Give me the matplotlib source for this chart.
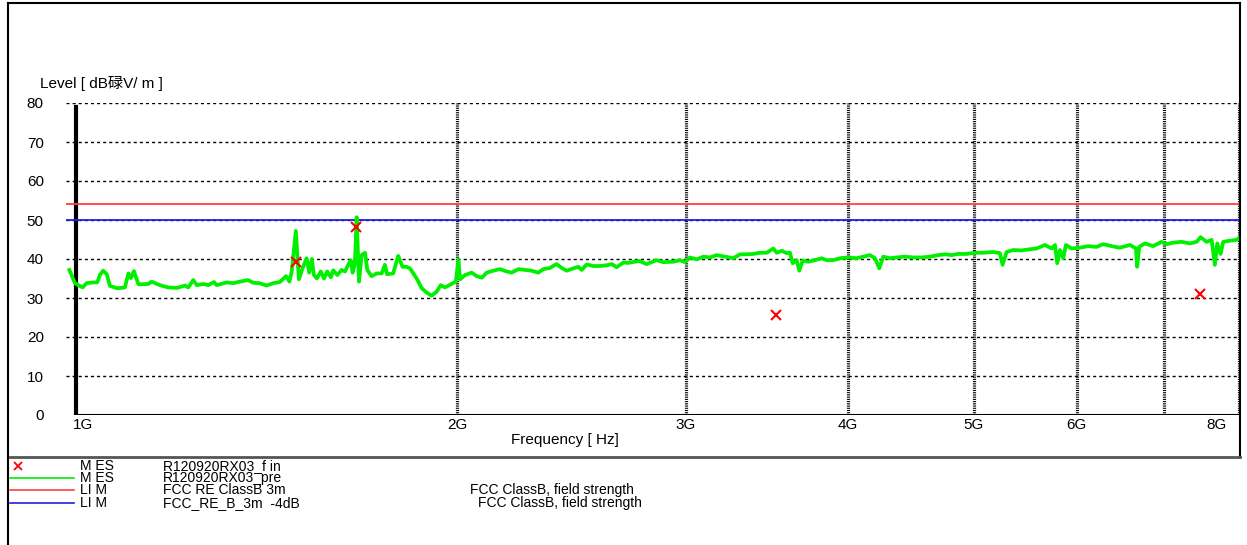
import matplotlib
matplotlib.use('Agg')
import matplotlib.pyplot as plt
import matplotlib.transforms as mtransforms

plt.rcParams['font.family'] = ['Liberation Sans', 'Noto Sans CJK SC', 'DejaVu Sans']
plt.rcParams['lines.scale_dashes'] = False

# pre-scan (green trace), frequency in GHz, level in dBuV/m
pre_freq = [
    1.006, 1.016, 1.022, 1.030, 1.037, 1.050, 1.057, 1.062, 1.068, 1.075,
    1.081, 1.095, 1.110, 1.117, 1.122, 1.128, 1.137, 1.157, 1.164, 1.181,
    1.199, 1.218, 1.235, 1.242, 1.253, 1.261, 1.276, 1.287, 1.300, 1.306,
    1.330, 1.345, 1.361, 1.381, 1.394, 1.409,
    1.427, 1.444, 1.461, 1.477, 1.486, 1.492, 1.503, 1.511, 1.521, 1.532,
    1.539, 1.546, 1.552, 1.560, 1.571, 1.580, 1.589, 1.599, 1.606, 1.618,
    1.630, 1.640, 1.649, 1.657, 1.662, 1.669, 1.674, 1.681, 1.689, 1.699,
    1.706, 1.719, 1.735, 1.750, 1.760, 1.767, 1.786, 1.802, 1.816, 1.829,
    1.840, 1.862, 1.879, 1.895, 1.912, 1.929, 1.943, 1.958, 1.973,
    1.996, 2.005, 2.011, 2.029, 2.053, 2.071, 2.090, 2.108, 2.133, 2.158,
    2.184, 2.203, 2.230, 2.256, 2.283, 2.310, 2.331, 2.358, 2.386, 2.408,
    2.429, 2.458, 2.480, 2.495, 2.517, 2.546, 2.577, 2.608, 2.631, 2.654,
    2.686, 2.709, 2.742, 2.763,
    2.799, 2.849, 2.883, 2.934, 2.969, 2.996, 3.023, 3.059, 3.095, 3.132,
    3.169, 3.216, 3.264, 3.303, 3.342, 3.381, 3.422, 3.463, 3.504, 3.525,
    3.556, 3.588, 3.609, 3.626, 3.652, 3.669, 3.691, 3.728, 3.772, 3.817,
    3.851,
    3.897, 3.943, 4.002, 4.062, 4.110, 4.159, 4.196, 4.228, 4.258, 4.309,
    4.360, 4.425, 4.490, 4.558, 4.625, 4.694, 4.750, 4.807, 4.863, 4.936,
    5.009, 5.084, 5.174, 5.236, 5.261, 5.299, 5.361, 5.442, 5.522, 5.588,
    5.671, 5.739, 5.773, 5.796, 5.824, 5.858, 5.886, 5.946, 6.034, 6.123,
    6.215, 6.288, 6.383, 6.477, 6.594, 6.664, 6.679, 6.703, 6.771, 6.871,
    6.974, 7.037, 7.119, 7.226, 7.333, 7.421, 7.474, 7.553, 7.621, 7.665,
    7.697, 7.743, 7.779, 7.872, 7.966, 7.995,
]
pre_level = [
    37.2, 33.8, 33.3, 32.7, 33.8, 34.0, 34.0, 35.9, 37.0, 36.1,
    33.1, 32.5, 32.7, 36.3, 35.1, 36.9, 33.5, 33.6, 34.2, 33.3,
    32.7, 32.6, 33.2, 32.7, 34.6, 33.3, 33.6, 33.3, 34.1, 33.3,
    34.0, 33.8, 34.2, 34.6, 33.9, 33.8,
    33.2, 33.8, 34.1, 35.6, 34.2, 36.8, 47.2, 34.8, 37.6, 40.2,
    36.5, 40.0, 35.9, 35.0, 36.8, 35.0, 36.8, 35.3, 37.1, 35.9,
    37.2, 36.8, 38.5, 39.7, 36.5, 38.9, 50.7, 34.2, 41.0, 41.6,
    37.2, 35.6, 36.3, 36.3, 38.5, 36.1, 36.3, 40.8, 38.0, 38.0,
    37.6, 35.0, 32.5, 31.4, 30.6, 31.6, 33.3, 32.7, 33.3,
    34.2, 39.9, 34.8, 35.9, 36.5, 35.6, 35.2, 36.5, 37.0, 37.4,
    36.8, 36.5, 37.4, 37.2, 37.0, 36.5, 37.4, 37.7, 38.7, 37.7,
    37.0, 37.6, 38.0, 37.2, 38.6, 38.2, 38.2, 38.4, 38.7, 37.9,
    39.1, 39.0, 39.3, 39.5,
    38.7, 39.7, 39.2, 39.3, 39.7, 39.2, 40.4, 39.9, 40.6, 40.4,
    41.0, 40.6, 40.2, 41.2, 41.2, 41.3, 41.6, 41.6, 42.7, 41.6,
    42.1, 41.5, 41.6, 38.9, 39.7, 37.0, 39.6, 39.3, 39.7, 40.2,
    39.7,
    39.7, 40.2, 40.4, 40.2, 40.6, 41.0, 40.2, 37.6, 40.6, 40.2,
    40.4, 40.6, 40.4, 40.4, 40.6, 41.0, 41.2, 41.0, 41.3, 41.3,
    41.6, 41.6, 41.8, 41.5, 38.5, 41.8, 42.3, 42.2, 42.5, 42.7,
    43.6, 42.7, 43.6, 38.9, 42.3, 40.2, 43.6, 42.7, 42.9, 43.3,
    43.1, 43.8, 43.3, 42.9, 43.6, 42.7, 38.0, 43.1, 44.0, 43.3,
    44.4, 43.8, 44.2, 44.4, 44.0, 44.4, 45.6, 44.4, 44.9, 38.5,
    44.0, 41.3, 44.4, 44.7, 44.9, 45.3,
]

# final measurements (red crosses)
fin_freq = [1.503, 1.671, 3.520, 7.464]
fin_level = [39.2, 48.3, 25.6, 31.0]

limit_classb = 54
limit_classb_margin = 50

x_ticks = [1, 2, 3, 4, 5, 6, 8]
x_tick_labels = ['1G', '2G', '3G', '4G', '5G', '6G', '8G']
x_grid = [2, 3, 4, 5, 6, 7, 8]
y_ticks = [0, 10, 20, 30, 40, 50, 60, 70, 80]

RED = '#ff4040'
BLUE = '#2020e0'
GREEN = '#00f000'

W, H = 1247, 545
fig = plt.figure(figsize=(W / 100, H / 100), dpi=100)

# plot area in pixel terms
left, right, top, bottom = 66, 1239, 103, 415
ax = fig.add_axes([left / W, 1 - bottom / H, (right - left) / W, (bottom - top) / H])
ax.set_xscale('log')
ax.set_xlim(1.0, 8.0)
ax.set_ylim(0, 80)
for s in ax.spines.values():
    s.set_visible(False)

for yv in y_ticks[1:]:
    ax.axhline(yv, color='black', dashes=(2.2, 2.2), linewidth=1, zorder=1)
for xv in x_grid:
    ax.axvline(xv, color='black', dashes=(0.8, 0.8), linewidth=2.3, zorder=1)

ax_start = 1.018
ax.plot([ax_start, ax_start], [0, 79], color='black', linewidth=3, zorder=2)
ax.plot([ax_start, 8.0], [0, 0], color='black', linewidth=1.5, zorder=2)

ax.axhline(limit_classb, color=RED, linewidth=1.3, zorder=3)
ax.axhline(limit_classb_margin, color=BLUE, linewidth=1.3, zorder=3)
ax.plot(pre_freq, pre_level, color=GREEN, linewidth=2.7, zorder=4)
ax.plot(fin_freq, fin_level, linestyle='none', marker='x', color='red',
        markersize=7, markeredgewidth=1.5, zorder=5)

ax.minorticks_off()
ax.set_xticks(x_ticks)
ax.set_xticklabels(x_tick_labels, fontsize=11)
ax.set_yticks(y_ticks)
ax.set_yticklabels([str(v) for v in y_ticks], fontsize=11)
ax.tick_params(axis='both', length=0)
ax.tick_params(axis='y', pad=16)
ax.tick_params(axis='x', pad=2)
xl = ax.get_xticklabels()
xl[0].set_ha('left')
xl[0].set_transform(xl[0].get_transform() + mtransforms.ScaledTranslation(5 / 72, 0, fig.dpi_scale_trans))
xl[-1].set_ha('right')
xl[-1].set_transform(xl[-1].get_transform() + mtransforms.ScaledTranslation(-9 / 72, 0, fig.dpi_scale_trans))

# overlay for frame, labels and legend block (pixel coordinates)
ov = fig.add_axes([0, 0, 1, 1], zorder=-1)
ov.set_xlim(0, W)
ov.set_ylim(H, 0)
ov.axis('off')
ov.plot([8, 8], [3, H], color='black', linewidth=1.5)
ov.plot([8, 1240], [3, 3], color='black', linewidth=1.5)
ov.plot([1240, 1240], [3, 457], color='black', linewidth=1.5)
ov.plot([10, 1240], [457, 457], color='#555555', linewidth=2)

ov.text(40, 83, 'Level [ dB碌V/ m ]', fontsize=11, va='center', ha='left')
ov.text(565, 440, 'Frequency [ Hz]', fontsize=11, va='center', ha='center')

rows = [466, 478, 490, 503]
ov.plot([18], [rows[0]], marker='x', color='red', markersize=6, markeredgewidth=1.3)
ov.plot([10, 74], [rows[1], rows[1]], color=GREEN, linewidth=1.2)
ov.plot([10, 74], [rows[2], rows[2]], color=RED, linewidth=1.2)
ov.plot([10, 74], [rows[3], rows[3]], color=BLUE, linewidth=1.2)
legend_rows = [
    ('M ES', 'R120920RX03_f in', ''),
    ('M ES', 'R120920RX03_pre', ''),
    ('LI M', 'FCC RE ClassB 3m', 'FCC ClassB, field strength'),
    ('LI M', 'FCC_RE_B_3m  -4dB', 'FCC ClassB, field strength'),
]
desc_x = [470, 470, 470, 478]
for (kind, name, desc), y, dx in zip(legend_rows, rows, desc_x):
    ov.text(80, y, kind, fontsize=10, va='center', ha='left')
    ov.text(163, y, name, fontsize=10, va='center', ha='left')
    if desc:
        ov.text(dx, y, desc, fontsize=10, va='center', ha='left')

fig.savefig('out.png', dpi=100)
